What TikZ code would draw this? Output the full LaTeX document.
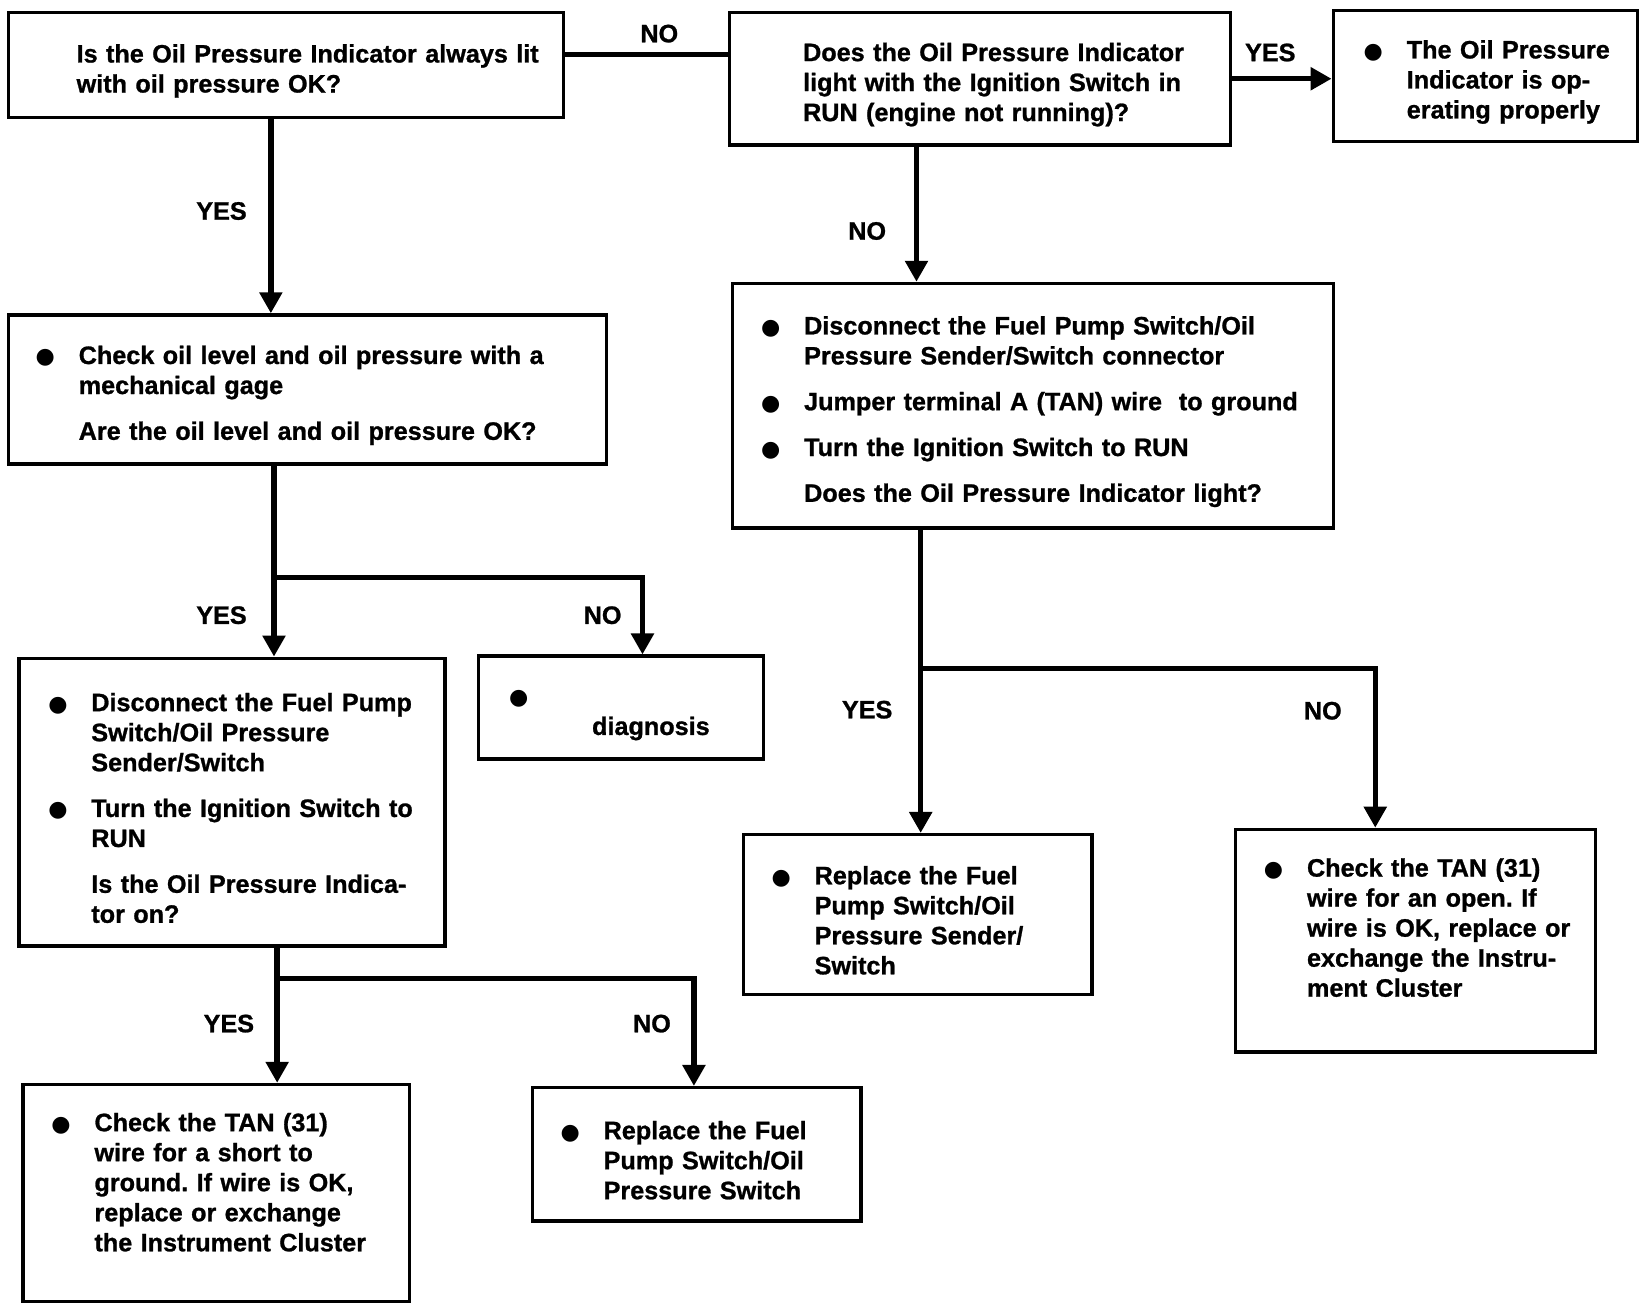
\documentclass[tikz,border=0pt]{standalone}
\usepackage{fontspec}
\setmainfont{Liberation Sans}[BoldFeatures={FakeBold=1}]
\newfontfamily\dotfont{DejaVu Sans}
\usetikzlibrary{positioning,calc,arrows.meta}

\newcommand{\bdot}{{\dotfont\fontsize{10.5}{12}\selectfont ●}}
\newcommand{\bitem}[1]{\par\hangindent=20.5pt\hangafter=1\noindent\makebox[20.5pt][l]{\bdot}#1\par}
\newcommand{\bques}[1]{\par\hangindent=20.5pt\hangafter=0\noindent #1\par}
\newcommand{\bgap}{\vspace{7.5pt}}
\newcommand{\bend}[1]{\par\vskip #1\hrule height 0pt width 0pt}

\begin{document}
\begin{tikzpicture}[x=0.5pt, y=-0.5pt,
    box/.style={draw, line width=1.6pt, rectangle, inner sep=0pt, align=left, font=\fontsize{12}{14.3}\selectfont\bfseries\frenchspacing},
    conn/.style={line width=2.6pt},
    arr/.style={conn, -{Triangle[length=10pt,width=10.5pt]}},
    lbl/.style={font=\fontsize{12}{14.3}\selectfont\bfseries, inner sep=0pt}]
    \useasboundingbox (0,0) rectangle (1566,1250);

    \node [box, minimum width=264.5pt, minimum height=50pt, text width=264.5pt] (chk) at (272.5,62) {\par\leftskip=32.5pt Is the Oil Pressure Indicator always lit\newline with oil pressure OK?\par};
    \node [box, minimum width=238.5pt, minimum height=63pt, text width=238.5pt] (ign) at (933.5,75) {\par\leftskip=35pt Does the Oil Pressure Indicator\newline light with the Ignition Switch in\newline RUN (engine not running)?\par};
    \node [box, minimum width=145pt, minimum height=62.5pt, text width=145pt] (fine) at (1415,72.5) {\leftskip=14.5pt\bitem{The Oil Pressure\newline Indicator is op-\newline erating properly}};
    \node [box, minimum width=285pt, minimum height=71pt, text width=285pt] (lvl) at (293,371) {\leftskip=13pt\bitem{Check oil level and oil pressure with a\newline mechanical gage}\bgap\bques{Are the oil level and oil pressure OK?}};
    \node [box, minimum width=286pt, minimum height=116.5pt, text width=286pt] (jmp) at (984,386.5) {\leftskip=13.5pt\bitem{Disconnect the Fuel Pump Switch/Oil\newline Pressure Sender/Switch connector}\bgap\bitem{Jumper terminal A (TAN) wire\ \ to ground}\bgap\bitem{Turn the Ignition Switch to RUN}\bgap\bques{Does the Oil Pressure Indicator light?}};
    \node [box, minimum width=135.5pt, minimum height=49pt, text width=135.5pt] (diag) at (591.5,674) {\leftskip=14.5pt\bitem{\newline\hspace*{19pt}diagnosis}};
    \node [box, minimum width=203pt, minimum height=137pt, text width=203pt] (dsc) at (221,764) {\leftskip=14pt\bitem{Disconnect the Fuel Pump\newline Switch/Oil Pressure\newline Sender/Switch}\bgap\bitem{Turn the Ignition Switch to\newline RUN}\bgap\bques{Is the Oil Pressure Indica-\newline tor on?}};
    \node [box, minimum width=166pt, minimum height=76pt, text width=166pt] (rsend) at (874,871) {\leftskip=13.5pt\bitem{Replace the Fuel\newline Pump Switch/Oil\newline Pressure Sender/\newline Switch}};
    \node [box, minimum width=171.5pt, minimum height=106pt, text width=171.5pt] (opn) at (1348.5,896) {\leftskip=13.5pt\bitem{Check the TAN (31)\newline wire for an open. If\newline wire is OK, replace or\newline exchange the Instru-\newline ment Cluster}\bend{18pt}};
    \node [box, minimum width=184pt, minimum height=103.5pt, text width=184pt] (shrt) at (206,1136.5) {\leftskip=13.5pt\bitem{Check the TAN (31)\newline wire for a short to\newline ground. If wire is OK,\newline replace or exchange\newline the Instrument Cluster}\bend{16pt}};
    \node [box, minimum width=156.5pt, minimum height=63.5pt, text width=156.5pt] (rsw) at (663.5,1099.5) {\leftskip=13.5pt\bitem{Replace the Fuel\newline Pump Switch/Oil\newline Pressure Switch}};

    \draw [conn] (chk.east |- 0,52) -- (ign.west |- 0,52);
    \node [lbl] (noA) at (628,32) {NO};
    \draw [arr] (ign.east) -- (ign.east -| fine.west);
    \node [lbl] (yesA) at (1210,50) {YES};
    \draw [arr] (873,0 |- ign.south) -- (873,0 |- jmp.north);
    \node [lbl] (noB) at (826,220) {NO};
    \draw [arr] (258,0 |- chk.south) -- (258,0 |- lvl.north);
    \node [lbl] (yesB) at (211,201) {YES};

    \coordinate (sA) at (261,550);
    \draw [conn] (sA |- lvl.south) -- (sA);
    \draw [arr] (sA) -- (sA |- dsc.north);
    \draw [arr] (sA) -| (612,0 |- diag.north);
    \node [lbl] (yesC) at (211,586) {YES};
    \node [lbl] (noC) at (574,586) {NO};

    \coordinate (sB) at (264,932);
    \draw [conn] (sB |- dsc.south) -- (sB);
    \draw [arr] (sB) -- (sB |- shrt.north);
    \draw [arr] (sB) -| (661,0 |- rsw.north);
    \node [lbl] (yesD) at (218,975) {YES};
    \node [lbl] (noD) at (621,975) {NO};

    \coordinate (sC) at (877,637);
    \draw [conn] (sC |- jmp.south) -- (sC);
    \draw [arr] (sC) -- (sC |- rsend.north);
    \draw [arr] (sC) -| (1310,0 |- opn.north);
    \node [lbl] (yesE) at (826,676) {YES};
    \node [lbl] (noE) at (1260,677) {NO};
\end{tikzpicture}
\end{document}
